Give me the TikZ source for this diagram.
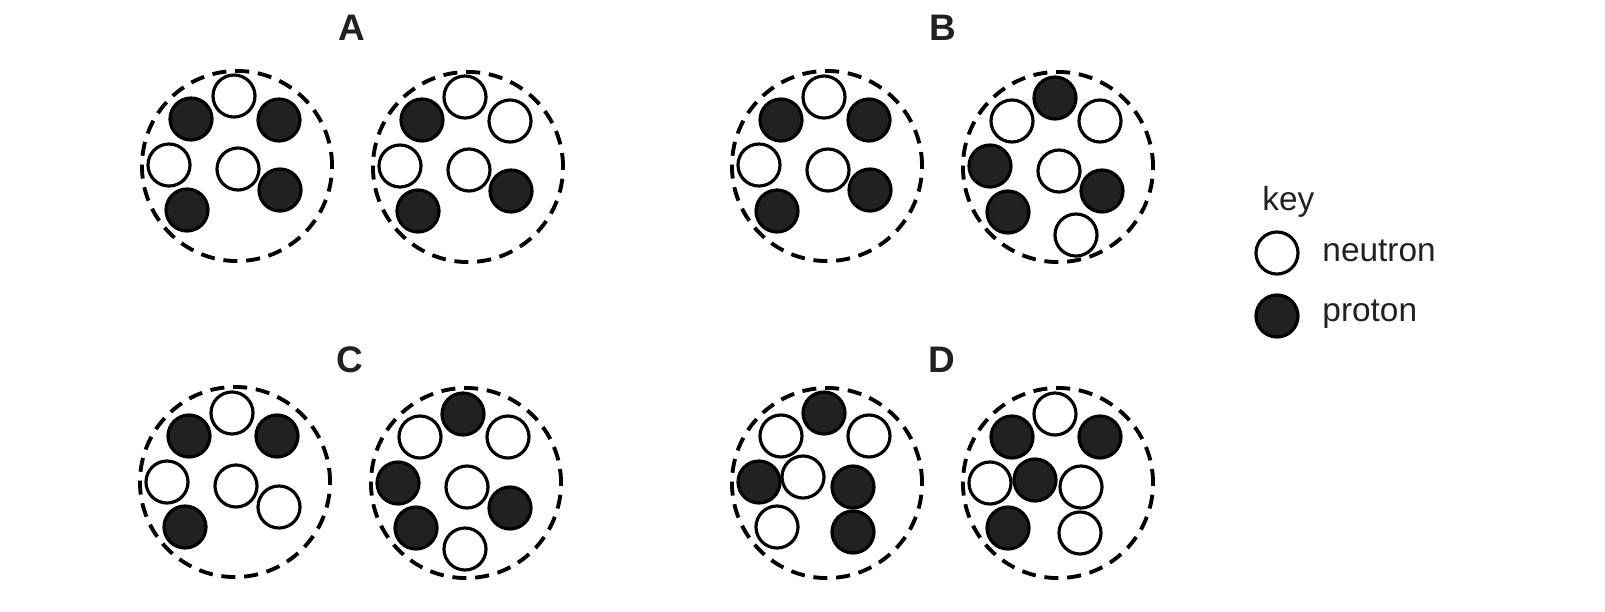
\documentclass[tikz,border=0pt]{standalone}
\usepackage{fontspec}
\setmainfont{Liberation Sans}
\begin{document}
\begin{tikzpicture}[x=0.01cm,y=-0.01cm,
 nuc/.style={circle,draw,dashed,line width=1.1pt,dash pattern=on 4pt off 2.5pt,minimum size=1.9cm,inner sep=0},
 n/.style={circle,draw,line width=0.9pt,fill=white,minimum size=0.42cm,inner sep=0},
 p/.style={circle,draw,line width=0.9pt,fill=black!87,minimum size=0.42cm,inner sep=0},
 lab/.style={font=\fontsize{10.5}{12}\selectfont\bfseries,text=black!87},
 kt/.style={font=\fontsize{9.5}{11}\selectfont,text=black!87,anchor=west}]
\useasboundingbox (0,0) rectangle (1605,611);
% A
\node[nuc] (a1) at (237,166) {}; \node[nuc] (a2) at (468,167) {};
\node[p] (a1p1) at (191,119) {};\node[n] (a1n1) at (234,96) {};\node[p] (a1p2) at (279,120) {};\node[n] (a1n2) at (169,165) {};\node[n] (a1n3) at (238,169) {};\node[p] (a1p3) at (280,190) {};\node[p] (a1p4) at (187,210) {};
\node[p] (a2p1) at (422,120) {};\node[n] (a2n1) at (465,97) {};\node[n] (a2n2) at (510,121) {};\node[n] (a2n3) at (400,166) {};\node[n] (a2n4) at (469,170) {};\node[p] (a2p2) at (511,191) {};\node[p] (a2p3) at (418,211) {};
% B
\node[nuc] (b1) at (827,166) {}; \node[nuc] (b2) at (1058,167) {};
\node[n] (b1n1) at (824,97) {};\node[p] (b1p1) at (781,120) {};\node[p] (b1p2) at (869,120) {};\node[n] (b1n2) at (759,165) {};\node[n] (b1n3) at (828,170) {};\node[p] (b1p3) at (870,190) {};\node[p] (b1p4) at (777,211) {};
\node[p] (b2p1) at (1055,98) {};\node[n] (b2n1) at (1012,121) {};\node[n] (b2n2) at (1100,121) {};\node[p] (b2p2) at (990,166) {};\node[n] (b2n3) at (1059,171) {};\node[p] (b2p3) at (1102,191) {};\node[p] (b2p4) at (1008,212) {};\node[n] (b2n4) at (1076,235) {};
% C
\node[nuc] (c1) at (235,482) {}; \node[nuc] (c2) at (466,483) {};
\node[n] (c1n1) at (232,413) {};\node[p] (c1p1) at (189,436) {};\node[p] (c1p2) at (277,436) {};\node[n] (c1n2) at (167,482) {};\node[n] (c1n3) at (236,486) {};\node[n] (c1n4) at (279,507) {};\node[p] (c1p3) at (185,527) {};
\node[p] (c2p1) at (463,414) {};\node[n] (c2n1) at (420,437) {};\node[n] (c2n2) at (508,437) {};\node[p] (c2p2) at (398,483) {};\node[n] (c2n3) at (467,487) {};\node[p] (c2p3) at (510,508) {};\node[p] (c2p4) at (416,528) {};\node[n] (c2n4) at (465,549) {};
% D
\node[nuc] (d1) at (827,483) {}; \node[nuc] (d2) at (1058,483) {};
\node[p] (d1p1) at (824,413) {};\node[n] (d1n1) at (781,436) {};\node[n] (d1n2) at (869,436) {};\node[p] (d1p2) at (759,482) {};\node[n] (d1n3) at (803,477) {};\node[p] (d1p3) at (853,487) {};\node[n] (d1n4) at (777,527) {};\node[p] (d1p4) at (853,532) {};
\node[n] (d2n1) at (1055,414) {};\node[p] (d2p1) at (1012,437) {};\node[p] (d2p2) at (1100,437) {};\node[n] (d2n2) at (990,483) {};\node[p] (d2p3) at (1035,480) {};\node[n] (d2n3) at (1081,487) {};\node[p] (d2p4) at (1008,528) {};\node[n] (d2n4) at (1080,533) {};
% labels
\node[lab] (la) at (352,28) {A};\node[lab] (lb) at (943,28) {B};
\node[lab] (lc) at (350,360) {C};\node[lab] (ld) at (942,360) {D};
% key
\node[kt] (key) at (1250,202) {key};
\node[n] (kn) at (1277,253) {};\node[kt] (ktn) at (1310,251) {neutron};
\node[p] (kp) at (1277,316) {};\node[kt] (ktp) at (1310,314) {proton};
\end{tikzpicture}
\end{document}
